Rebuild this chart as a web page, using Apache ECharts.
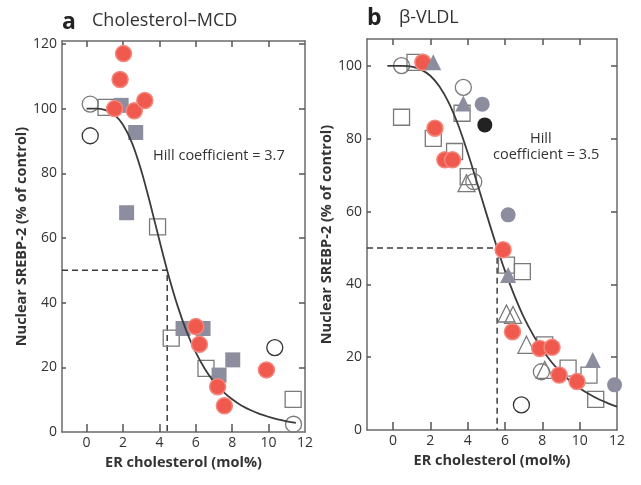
<!DOCTYPE html>
<html><head><meta charset="utf-8">
<script src="https://cdn.jsdelivr.net/npm/echarts@6/dist/echarts.min.js"></script>
<style>html,body{margin:0;padding:0;background:#fff}#c{width:641px;height:485px}</style>
</head><body><div id="c"></div>
<script>
// ---------- data ----------
const xTicks = [0, 2, 4, 6, 8, 10];
const xLabels = [0, 2, 4, 6, 8, 10, 12];
const aYLabels = [0, 20, 40, 60, 80, 100, 120];
const bYLabels = [0, 20, 40, 60, 80, 100];
const yTicksA = [20, 40, 60, 80, 100, 120];
const yTicksB = [20, 40, 60, 80, 100];

// Panel a: Cholesterol–MCD  ([ER cholesterol mol%, nuclear SREBP-2 %])
const aRedCircles = [[2.03,117],[1.84,109],[1.54,100],[2.62,99.3],[3.2,102.5],[6.0,32.6],[6.2,27.1],[7.2,14],[7.57,8.1],[9.88,19.2]];
const aGreySquares = [[1.9,101],[2.7,92.6],[2.2,67.8],[5.3,32],[6.4,32],[8.03,22.3],[7.28,17.6]];
const aOpenSquares = [[1.07,100.4],[3.9,63.4],[4.65,29],[6.56,19.7],[11.35,10.1]];
const aOpenCirclesGrey = [[0.2,101.4],[11.37,2.4]];
const aOpenCirclesDark = [[0.2,91.6],[10.34,26.1]];
const aCurveX = [0,0.5,1,1.5,2,2.5,3,3.5,4,4.5,5,5.5,6,6.5,7,7.5,8,8.5,9,9.5,10,10.5,11,11.5];
const aCurveY = [100,100,99.6,98.2,95,89.3,80.9,70.5,59.3,48.5,39,31,24.6,19.5,15.5,12.5,10.1,8.2,6.8,5.6,4.7,3.9,3.3,2.8];
const aHalf = 4.43;

// Panel b: β-VLDL
const bRedCircles = [[1.6,101],[2.25,82.9],[2.78,74.2],[3.19,74.2],[5.9,49.5],[6.4,27],[7.86,22.4],[8.52,22.7],[8.9,15.1],[9.86,13.3]];
const bOpenCircles = [[0.46,100.1],[3.77,94.1],[4.33,68.2],[7.95,16]];
const bOpenCirclesDark = [[6.88,6.9]];
const bOpenSquares = [[1.18,101],[0.46,85.9],[3.7,87],[2.16,80.1],[3.3,76.5],[4.03,69.6],[6.08,45.3],[6.93,43.5],[8.13,23.4],[9.38,17],[10.5,15.1],[10.86,8.4]];
const bOpenTriangles = [[3.94,67.8],[6.08,32],[6.43,31.6],[7.15,23.4],[8.13,16.5]];
const bGreyTriangles = [[2.16,101],[3.77,89.7],[6.17,42.6],[10.7,19.2]];
const bGreyCircles = [[4.78,89.5],[6.17,59.1],[11.87,12.4]];
const bBlackCircles = [[4.92,83.8]];
const bCurveX = [-0.3,0,0.5,1,1.5,2,2.5,3,3.5,4,4.5,5,5.5,6,6.5,7,7.5,8,8.5,9,9.5,10,10.5,11,11.5,12];
const bCurveY = [100,100,100,99.8,99,97.3,94.3,89.8,83.7,76.2,68,59.5,51.3,43.7,37,31.1,26.2,22.1,18.6,15.8,13.4,11.5,9.9,8.5,7.4,6.4];
const bHalf = 5.58;

// ---------- styling ----------
const FONT = '"Open Sans", sans-serif';
const FRAME = '#6a6a6a';
const RED = '#f05a4e', GREY = '#8c8e9f', OPEN = '#7a7a7a', DARK = '#222';

const aX = {min: -1.35, max: 12}, bX = {min: -1.39, max: 12};
const aY = {min: 0, max: 120.9}, bY = {min: 0, max: 107.4};

function xAxes(grid, ext, nameGap) {
  return [
    {type:'value', gridIndex:grid, min:ext.min, max:ext.max, position:'bottom',
     axisLine:{show:true, onZero:false, lineStyle:{color:FRAME, width:1.5}},
     axisTick:{show:true, inside:true, length:8, customValues:xTicks, lineStyle:{color:'#555', width:1.5}},
     axisLabel:{customValues:xLabels, color:'#333', fontSize:14, fontFamily:FONT, margin:4},
     splitLine:{show:false},
     name:'ER cholesterol (mol%)', nameLocation:'middle', nameGap:nameGap,
     nameTextStyle:{fontFamily:FONT, fontWeight:'bold', fontSize:14.5, color:'#333'}},
    {type:'value', gridIndex:grid, min:ext.min, max:ext.max, position:'top',
     axisLine:{show:true, onZero:false, lineStyle:{color:FRAME, width:1.5}},
     axisTick:{show:true, inside:true, length:6, customValues:xTicks, lineStyle:{color:'#555', width:1.5}},
     axisLabel:{show:false}, splitLine:{show:false}}
  ];
}
function yAxes(grid, ext, labels, ticks, nameGap) {
  return [
    {type:'value', gridIndex:grid, min:ext.min, max:ext.max, position:'left',
     axisLine:{show:true, onZero:false, lineStyle:{color:FRAME, width:1.5}},
     axisTick:{show:true, inside:true, length:4, customValues:ticks, lineStyle:{color:'#555', width:1.5}},
     axisLabel:{customValues:labels, color:'#333', fontSize:14, fontFamily:FONT, margin:5},
     splitLine:{show:false},
     name:'Nuclear SREBP-2 (% of control)', nameLocation:'middle', nameGap:nameGap,
     nameTextStyle:{fontFamily:FONT, fontWeight:'bold', fontSize:14.5, color:'#333'}},
    {type:'value', gridIndex:grid, min:ext.min, max:ext.max, position:'right',
     axisLine:{show:true, onZero:false, lineStyle:{color:FRAME, width:1.5}},
     axisTick:{show:true, inside:true, length:6, customValues:ticks, lineStyle:{color:'#555', width:1.5}},
     axisLabel:{show:false}, splitLine:{show:false}}
  ];
}

function scatter(xi, yi, data, symbol, size, fill, border, bw, z) {
  return {type:'scatter', xAxisIndex:xi, yAxisIndex:yi, data:data, symbol:symbol, symbolSize:size,
    clip:false, z:z||2,
    itemStyle:{color:fill, borderColor:border, borderWidth:bw, opacity:1}};
}
function curve(xi, yi, xs, ys) {
  return {type:'line', xAxisIndex:xi, yAxisIndex:yi, data:xs.map((x,i)=>[x, ys[i]]),
    showSymbol:false, smooth:0.3, z:5, lineStyle:{color:'#3c3c3c', width:1.8}};
}
function dashed(xi, yi, xmin, half) {
  return {type:'line', xAxisIndex:xi, yAxisIndex:yi, data:[[xmin,50],[half,50],[half,0]],
    showSymbol:false, z:1, lineStyle:{color:'#3c3c3c', width:1.5, type:[6,4]}};
}

const option = {
  animation:false,
  backgroundColor:'#fff',
  grid:[
    {left:62, top:41, width:243, height:391},
    {left:367, top:39, width:250, height:391}
  ],
  xAxis:[...xAxes(0, aX, 22), ...xAxes(1, bX, 23)],
  yAxis:[...yAxes(0, aY, aYLabels, yTicksA, 33), ...yAxes(1, bY, bYLabels, yTicksB, 29)],
  graphic:[
    {type:'text', left:62, top:11, style:{text:'a', font:'bold 23px '+FONT, fill:'#222'}},
    {type:'text', left:92, top:12, style:{text:'Cholesterol–MCD', font:'18px '+FONT, fill:'#333'}},
    {type:'text', left:367, top:7, style:{text:'b', font:'bold 23px '+FONT, fill:'#222'}},
    {type:'text', left:399, top:9, style:{text:'β-VLDL', font:'18px '+FONT, fill:'#333'}},
    {type:'text', left:153, top:148, style:{text:'Hill coefficient = 3.7', font:'14.5px '+FONT, fill:'#333'}},
    {type:'text', left:530, top:131, style:{text:'Hill', font:'14.5px '+FONT, fill:'#333'}},
    {type:'text', left:493, top:147, style:{text:'coefficient = 3.5', font:'14.5px '+FONT, fill:'#333'}}
  ],
  series:[
    dashed(0, 0, aX.min, aHalf),
    curve(0, 0, aCurveX, aCurveY),
    scatter(0, 0, aOpenCirclesGrey, 'circle', 16, 'rgba(0,0,0,0)', OPEN, 1.3, 3),
    scatter(0, 0, aOpenCirclesDark, 'circle', 16, 'rgba(0,0,0,0)', '#333', 1.3, 3),
    scatter(0, 0, aOpenSquares, 'rect', 16, 'rgba(0,0,0,0)', OPEN, 1.3, 3),
    scatter(0, 0, aGreySquares, 'rect', 15, GREY, GREY, 0, 4),
    scatter(0, 0, aRedCircles, 'circle', 16, RED, '#f3877d', 1.5, 6),

    dashed(2, 2, bX.min, bHalf),
    curve(2, 2, bCurveX, bCurveY),
    scatter(2, 2, bOpenSquares, 'rect', 16, 'rgba(0,0,0,0)', OPEN, 1.3, 3),
    scatter(2, 2, bOpenTriangles, 'triangle', 17, 'rgba(0,0,0,0)', OPEN, 1.3, 3),
    scatter(2, 2, bOpenCircles, 'circle', 16, 'rgba(0,0,0,0)', OPEN, 1.3, 3),
    scatter(2, 2, bOpenCirclesDark, 'circle', 16, 'rgba(0,0,0,0)', '#333', 1.3, 3),
    scatter(2, 2, bRedCircles, 'circle', 16, RED, '#f3877d', 1.5, 6),
    scatter(2, 2, bGreyTriangles, 'triangle', 16, GREY, GREY, 0, 7),
    scatter(2, 2, bGreyCircles, 'circle', 15, GREY, GREY, 0, 4),
    scatter(2, 2, bBlackCircles, 'circle', 15, DARK, DARK, 0, 4)
  ]
};
const chart = echarts.init(document.getElementById('c'), null, {renderer:'canvas'});
chart.setOption(option);
</script>
</body></html>
